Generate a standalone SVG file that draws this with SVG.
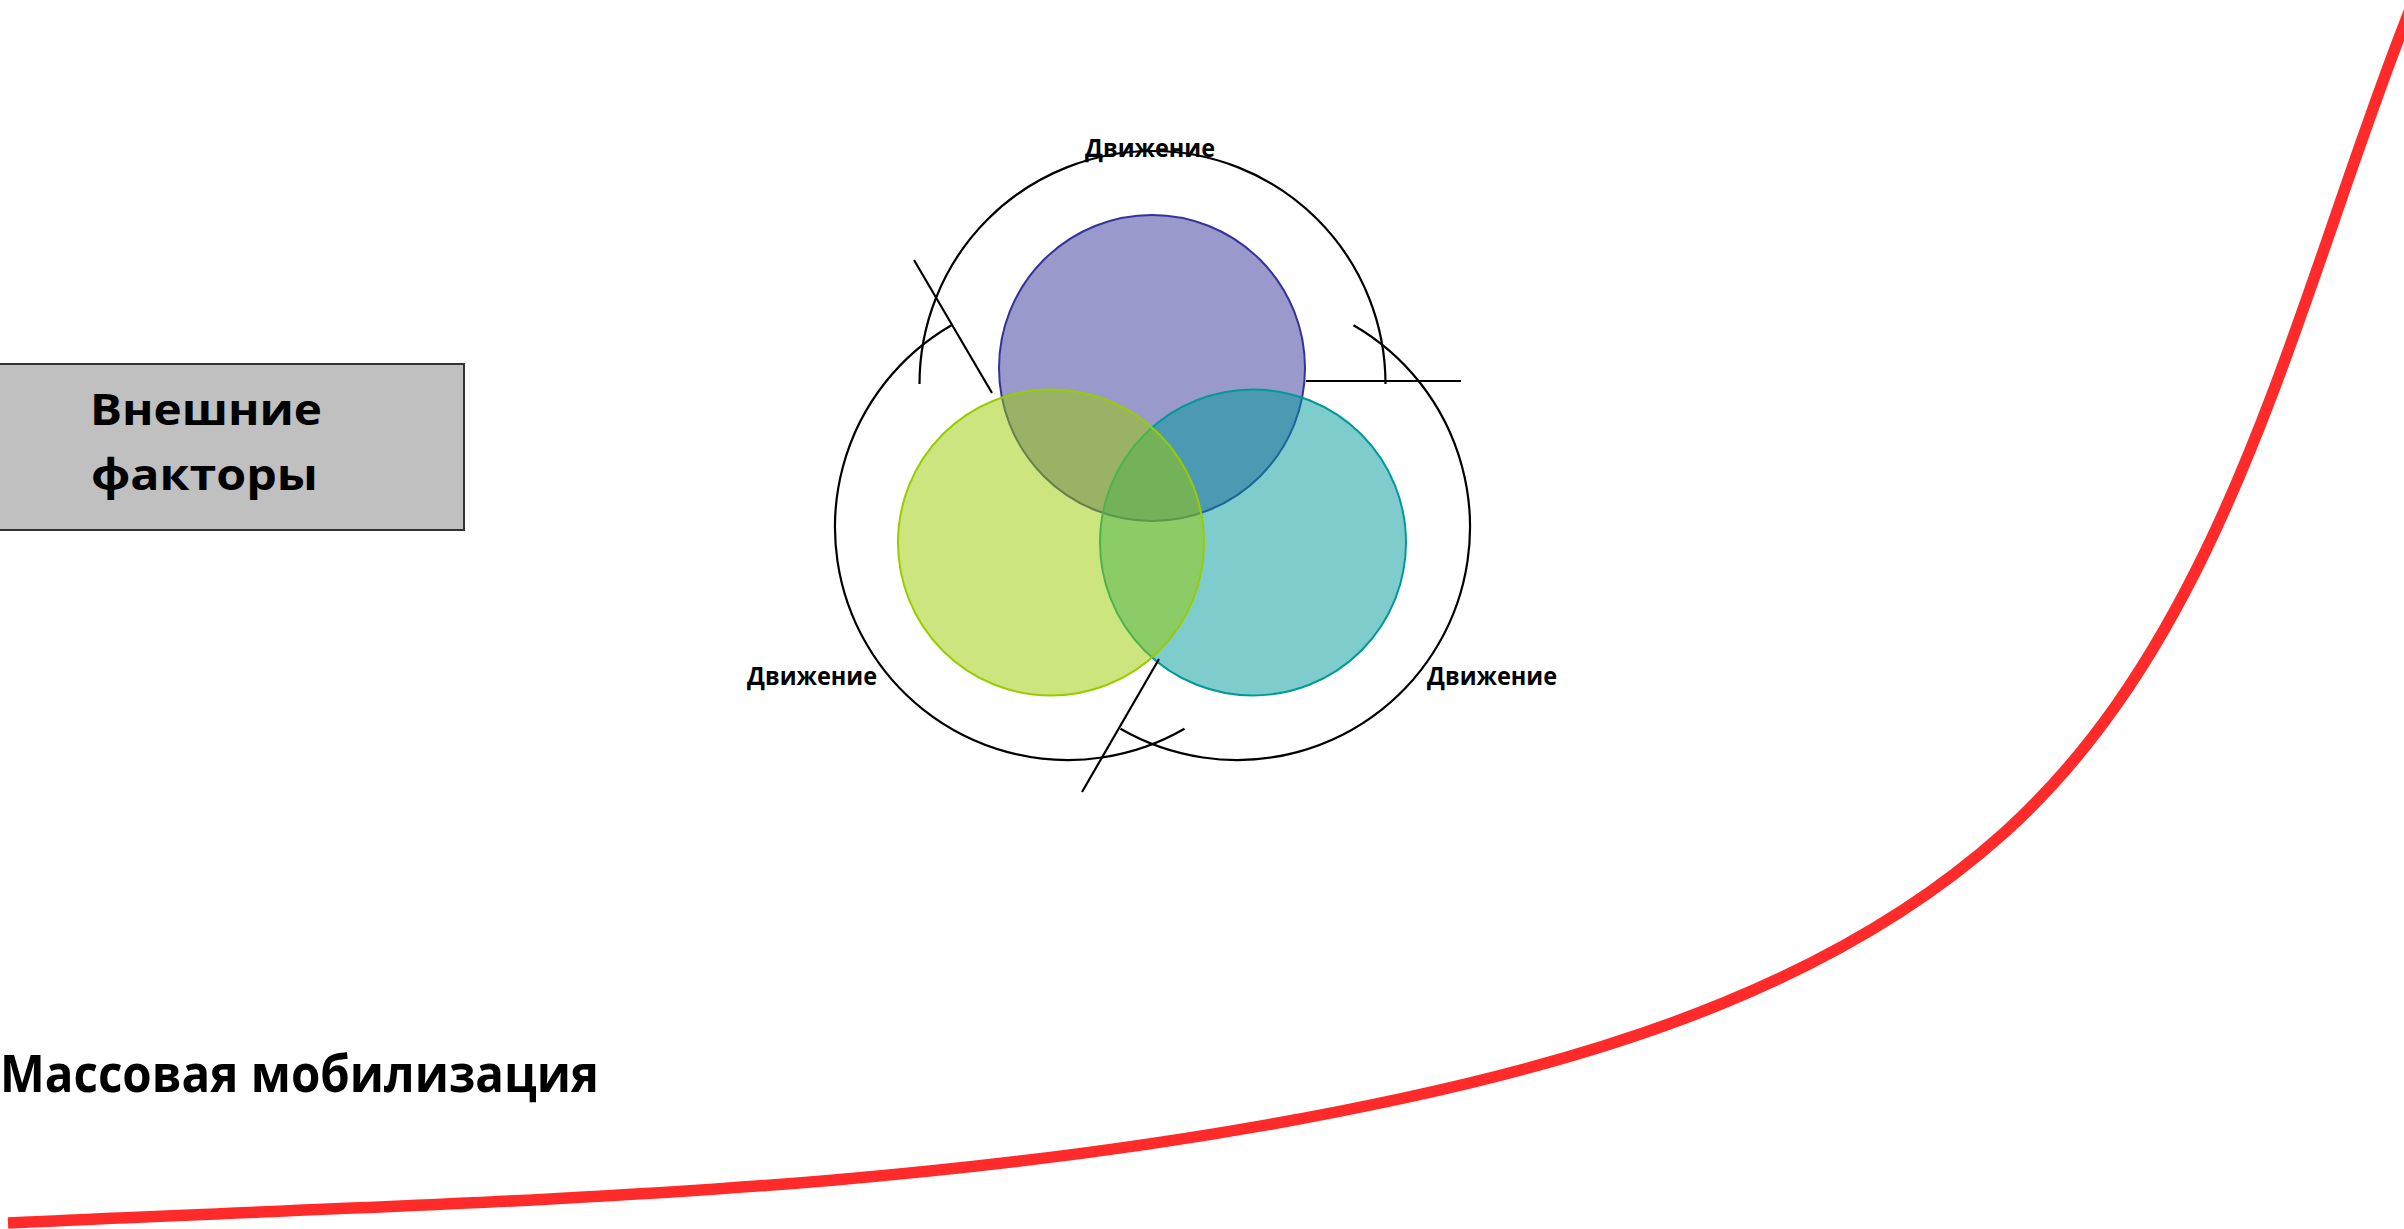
<svg xmlns="http://www.w3.org/2000/svg" width="2404" height="1229" viewBox="0 0 2404 1229">
<style>
.lbl{font-family:"Open Sans","DejaVu Sans",sans-serif;font-weight:bold;fill:#000}
.arc{fill:none;stroke:#000;stroke-width:2.2}
.tick{stroke:#000;stroke-width:2.2;fill:none}
</style>
<rect width="2404" height="1229" fill="#fff"/>
<g id="curve">
<path d="M 8 1223 C 473 1200, 939 1199, 1404 1098 C 1618 1052, 1841 979.5, 2004 833 C 2227 632, 2295 305, 2404 25 L 2414 -1" fill="none" stroke="#ff2a2a" stroke-width="11.5"/>
</g>
<g id="external-factors">
<rect x="-1" y="364" width="465" height="166" fill="#c0c0c0" stroke="#333" stroke-width="2"/>
<text class="lbl" x="90" y="425" font-size="43" textLength="232" lengthAdjust="spacingAndGlyphs">Внешние</text>
<text class="lbl" x="91" y="490" font-size="43" textLength="227" lengthAdjust="spacingAndGlyphs">факторы</text>
</g>
<g id="mass-mobilization">
<text class="lbl" x="0" y="1092" font-size="52" textLength="599" lengthAdjust="spacingAndGlyphs">Массовая мобилизация</text>
</g>
<g id="venn">
<g id="circle-purple"><circle cx="1152" cy="368" r="153" fill="#333399" fill-opacity="0.5" stroke="#333399" stroke-width="2"/></g>
<g id="circle-teal"><circle cx="1253" cy="542.5" r="153" fill="#009999" fill-opacity="0.5" stroke="#009999" stroke-width="2"/></g>
<g id="circle-green"><circle cx="1051" cy="542.5" r="153" fill="#99cc00" fill-opacity="0.5" stroke="#99cc00" stroke-width="2"/></g>
</g>
<g id="connectors">
<path class="arc" d="M 919.5 384 A 233 233 0 0 1 1385.5 384"/>
<path class="arc" d="M 951.5 325.2 A 233 233 0 0 0 1184.5 728.8"/>
<path class="arc" d="M 1353.5 325.2 A 233 233 0 0 1 1120.5 728.8"/>
<line class="tick" x1="914" y1="260" x2="992" y2="393"/>
<line class="tick" x1="1306" y1="381" x2="1461" y2="381"/>
<line class="tick" x1="1159" y1="659" x2="1082" y2="792"/>
</g>
<g id="label-top"><text class="lbl" x="1085" y="157" font-size="25" textLength="130" lengthAdjust="spacingAndGlyphs">Движение</text></g>
<g id="label-left"><text class="lbl" x="747" y="685" font-size="25" textLength="130" lengthAdjust="spacingAndGlyphs">Движение</text></g>
<g id="label-right"><text class="lbl" x="1427" y="685" font-size="25" textLength="130" lengthAdjust="spacingAndGlyphs">Движение</text></g>
</svg>
